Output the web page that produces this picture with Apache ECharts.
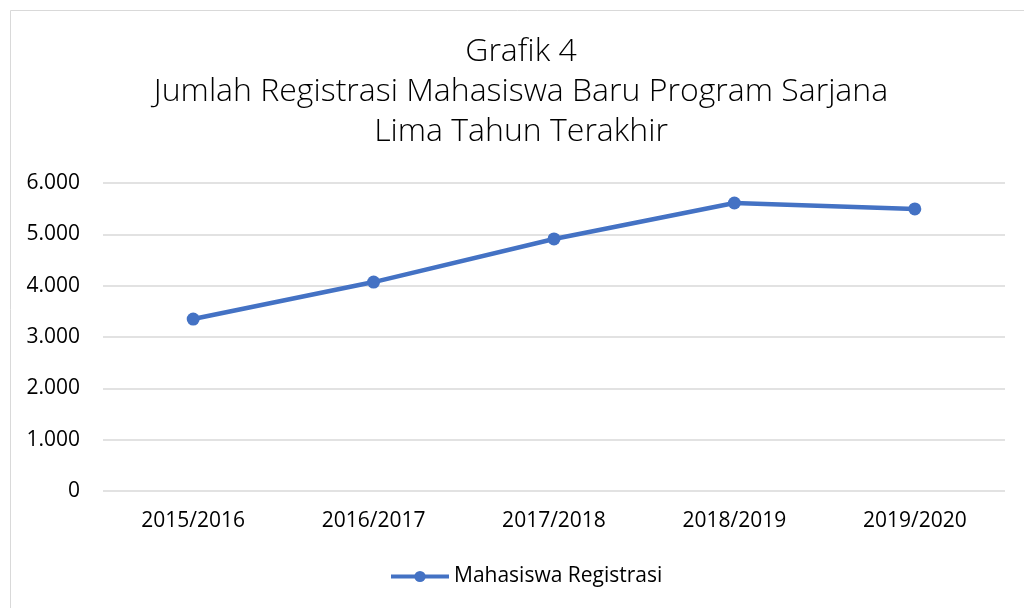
<!DOCTYPE html>
<html>
<head>
<meta charset="utf-8">
<script src="https://cdn.jsdelivr.net/npm/echarts@6/dist/echarts.min.js"></script>
<style>
  html, body { margin: 0; padding: 0; background: #fff; }
  #chart { width: 1024px; height: 608px; }
</style>
</head>
<body>
<div id="chart"></div>
<script>
// data
var cateList = ['2015/2016', '2016/2017', '2017/2018', '2018/2019', '2019/2020'];
var dataList = [3350, 4070, 4910, 5610, 5495];
var yTicks = [0, 1000, 2000, 3000, 4000, 5000, 6000];
var seriesName = 'Mahasiswa Registrasi';
var titleLines = ['Grafik 4', 'Jumlah Registrasi Mahasiswa Baru Program Sarjana', 'Lima Tahun Terakhir'];

var Chart = echarts.init(document.getElementById('chart'));

// 6000 -> "6.000"
function fmt(v) {
  return String(v).replace(/\B(?=(\d{3})+(?!\d))/g, '.');
}

var font = '"Open Sans", "Noto Sans", sans-serif';

var option = {
  animation: false,
  backgroundColor: '#fff',
  graphic: [{
    type: 'rect',
    shape: { x: 10.5, y: 10.5, width: 1030, height: 620 },
    style: { fill: 'none', stroke: '#d9d9d9', lineWidth: 1 }
  }],
  title: {
    text: titleLines.join('\n'),
    // with textAlign center, left is the centre of the lines
    left: 516,
    top: 27,
    textAlign: 'center',
    textStyle: {
      fontFamily: font,
      fontWeight: 300,
      fontSize: 32,
      lineHeight: 40,
      color: '#000'
    }
  },
  grid: {
    left: 103,
    right: 19,
    top: 183,
    bottom: 117
  },
  legend: {
    bottom: 16,
    left: 384,
    itemWidth: 58,
    itemHeight: 14,
    itemGap: 4,
    lineStyle: { width: 4 },
    textStyle: { fontSize: 21, color: '#000', fontFamily: font },
    data: [seriesName]
  },
  xAxis: {
    type: 'category',
    data: cateList,
    boundaryGap: true,
    axisLine: { show: false },
    axisTick: { show: false },
    axisLabel: { fontSize: 21, color: '#000', margin: 20, fontFamily: font }
  },
  yAxis: {
    type: 'value',
    min: yTicks[0],
    max: yTicks[yTicks.length - 1],
    interval: 1000,
    axisLine: { show: false },
    axisTick: { show: false },
    axisLabel: {
      fontSize: 21, color: '#000', margin: 23, fontFamily: font,
      formatter: fmt
    },
    splitLine: { lineStyle: { color: '#d9d9d9', width: 1.5 } }
  },
  series: [{
    name: seriesName,
    type: 'line',
    data: dataList,
    symbol: 'circle',
    symbolSize: 13,
    itemStyle: { color: '#4472c4' },
    lineStyle: { color: '#4472c4', width: 4.5 }
  }]
};

Chart.setOption(option);
</script>
</body>
</html>
